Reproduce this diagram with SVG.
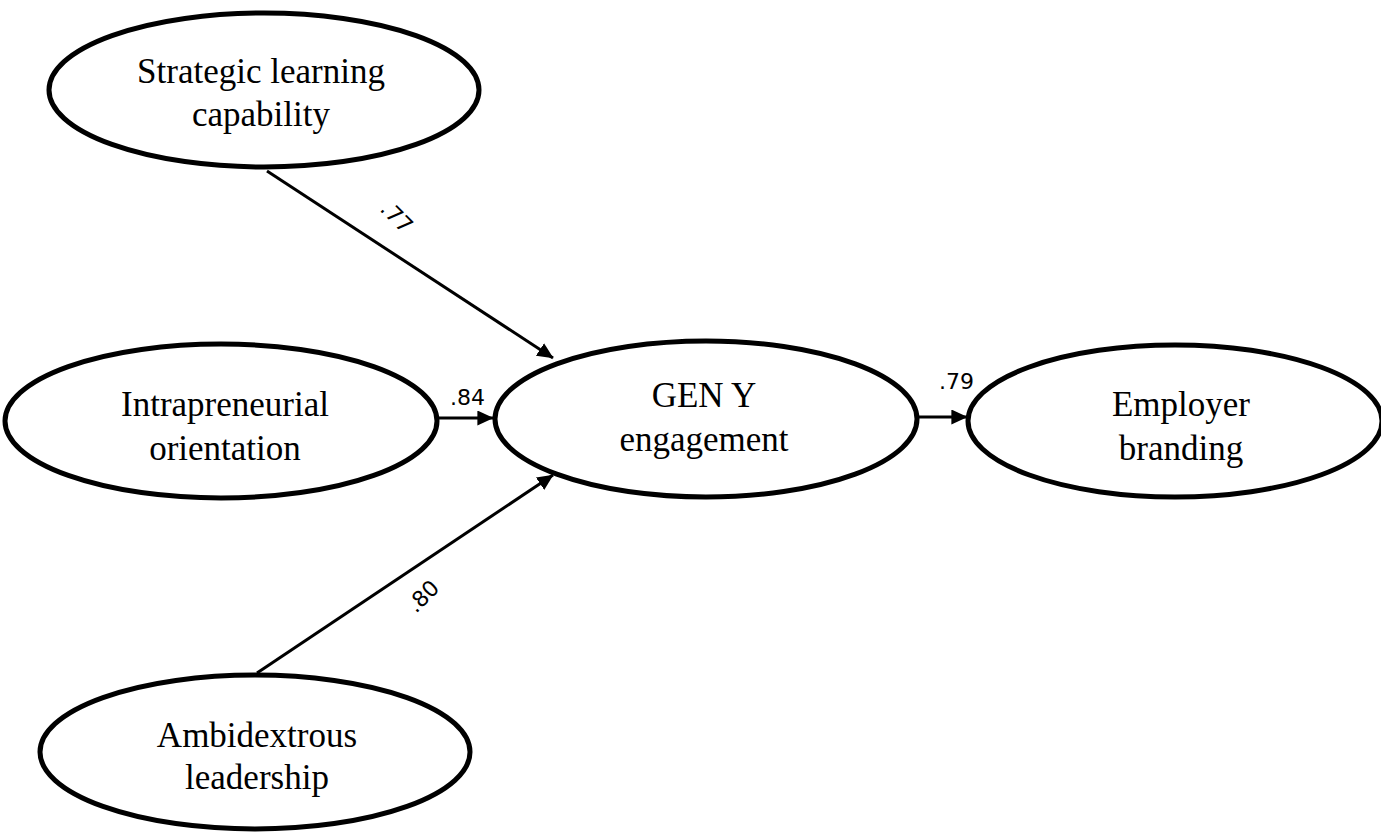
<svg xmlns="http://www.w3.org/2000/svg" width="1381" height="832" viewBox="0 0 1381 832">
<defs>
<style>
.node ellipse{fill:#fff;stroke:#000;stroke-width:5}
.node text{font-family:"Liberation Serif","Times New Roman",serif;font-size:35px;fill:#000;text-anchor:middle}
.conn line{stroke:#000;stroke-width:3;marker-end:url(#arr)}
.lbl{font-family:"DejaVu Sans","Liberation Sans",sans-serif;font-size:22px;fill:#000}
</style>
<marker id="arr" markerWidth="6" markerHeight="5" refX="5.2" refY="2.5" orient="auto" markerUnits="strokeWidth">
<path d="M0,0 L5.4,2.5 L0,5 Z" fill="#000"/>
</marker>
</defs>
<rect width="1381" height="832" fill="#fff"/>
<g id="connectors" class="conn">
<line x1="267" y1="171" x2="553" y2="358"/>
<line x1="257" y1="673" x2="553" y2="475"/>
<line x1="437" y1="418" x2="493" y2="418"/>
<line x1="918" y1="417" x2="967" y2="417"/>
</g>
<g id="labels">
<text class="lbl" x="379" y="210" transform="rotate(45 379 210)">.77</text>
<text class="lbl" x="450" y="405">.84</text>
<text class="lbl" x="416" y="614" transform="rotate(-45 416 614)">.80</text>
<text class="lbl" x="939" y="389">.79</text>
</g>
<g id="strategic" class="node">
<ellipse cx="264" cy="90" rx="215" ry="77"/>
<text x="261" y="83">Strategic learning</text>
<text x="261" y="126">capability</text>
</g>
<g id="intrapreneurial" class="node">
<ellipse cx="221" cy="421" rx="216" ry="77"/>
<text x="225" y="416">Intrapreneurial</text>
<text x="225" y="460">orientation</text>
</g>
<g id="geny" class="node">
<ellipse cx="706" cy="419" rx="211" ry="78"/>
<text x="704" y="407">GEN Y</text>
<text x="704" y="451">engagement</text>
</g>
<g id="employer" class="node">
<ellipse cx="1175" cy="421" rx="207" ry="76"/>
<text x="1181" y="416">Employer</text>
<text x="1181" y="460">branding</text>
</g>
<g id="ambidextrous" class="node">
<ellipse cx="255" cy="752" rx="215" ry="77"/>
<text x="257" y="747">Ambidextrous</text>
<text x="257" y="789">leadership</text>
</g>
</svg>
